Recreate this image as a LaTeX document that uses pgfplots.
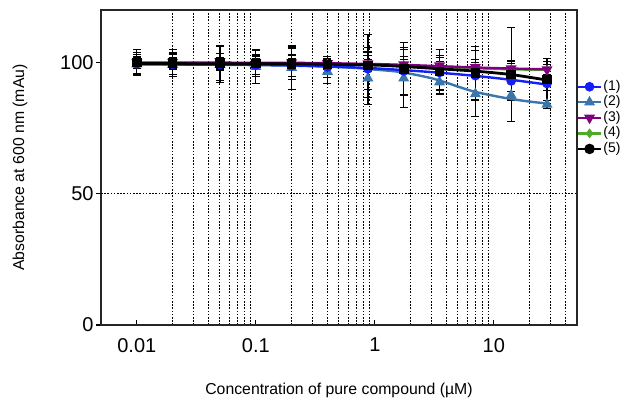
\documentclass[border=0pt]{standalone}
\usepackage{fontspec}
\setmainfont{Liberation Sans}
\usepackage{pgfplots}
\usepackage{pgfplotstable}
\pgfplotsset{compat=1.18}

\definecolor{c1}{RGB}{20,30,245}
\definecolor{c2}{RGB}{58,117,172}
\definecolor{c3}{RGB}{128,0,128}
\definecolor{c4}{RGB}{80,170,40}
\definecolor{c5}{RGB}{0,0,0}

% measured points: concentration, mean, error
\pgfplotstableread{
x     y      e
0.01  99.5   4.3
0.02  99.3   4.5
0.05  99.3   2.5
0.1   99.0   3.5
0.2   98.7   4.0
0.4   98.3   4.0
0.875 97.6   8.0
1.75  96.8   9.0
3.5   96.2   6.5
7     95.0   9.5
14    93.0   7.5
28    92.0   2.6
}\sone
\pgfplotstableread{
x     y      e
0.01  99.4   3.6
0.02  99.2   3.8
0.05  99.2   6.8
0.1   98.4   6.5
0.2   98.0   8.3
0.4   96.5   4.5
0.875 94.0   10.0
1.75  94.0   11.0
3.5   92.5   3.0
7     88.0   8.5
14    87.5   1.5
28    84.0   1.5
}\stwo
\pgfplotstableread{
x     y      e
0.01  100.0  2.3
0.02  100.2  3.0
0.05  100.4  3.0
0.1   100.2  2.8
0.2   100.0  3.0
0.4   99.7   2.5
0.875 99.6   3.0
1.75  99.2   3.0
3.5   98.8   3.0
7     98.2   3.0
14    97.7   3.0
28    97.3   3.0
}\sthree
\pgfplotstableread{
x     y      e
0.01  99.8   2.0
0.02  99.8   2.0
0.05  99.7   2.0
0.1   99.6   2.0
0.2   99.5   2.0
0.4   99.4   2.0
0.875 99.2   2.0
1.75  99.0   2.0
3.5   98.5   2.0
7     98.0   2.0
14    97.5   2.0
28    97.2   2.0
}\sfour
\pgfplotstableread{
x     y      e
0.01  100.0  5.0
0.02  99.8   5.1
0.05  99.8   6.7
0.1   99.6   5.0
0.2   99.5   6.0
0.4   99.2   3.0
0.875 98.8   12.0
1.75  97.5   10.0
3.5   96.5   8.5
7     96.0   10.0
14    95.4   18.0
28    93.5   8.0
}\sfive

\begin{document}
\begin{tikzpicture}
\useasboundingbox (-50.5pt,-38.5pt) rectangle (263.5pt,162.5pt);
\begin{axis}[
  name=ax, at={(0,0)}, anchor=south west,
  scale only axis, width=238pt, height=157.5pt,
  xmode=log, xmin=0.005, xmax=50, ymin=0, ymax=120,
  xtick={0.01,0.1,1,10}, xticklabels={0.01,0.1,1,10},
  ytick={0,50,100},
  minor xtick={0.02,0.03,0.04,0.05,0.06,0.07,0.08,0.09,0.2,0.3,0.4,0.5,0.6,0.7,0.8,0.9,2,3,4,5,6,7,8,9,20,30,40},
  xminorgrids,
  minor grid style={dash pattern=on 0.8pt off 0.8pt, black, line width=0.5pt},
  major grid style={dash pattern=on 0.8pt off 0.8pt, black, line width=0.5pt},
  extra y ticks={50}, extra y tick labels={},
  extra y tick style={grid=major, major tick length=0pt},
  tick pos=left,
  xtick align=inside, ytick align=outside,
  major tick length=2.5pt, minor tick length=0pt,
  tick style={black, line width=0.6pt},
  axis line style={black!85, line width=0.7pt},
  ticklabel style={font=\fontsize{10}{12}\selectfont},
  xticklabel style={yshift=-3pt},
  yticklabel style={inner xsep=1pt},
  /pgf/number format/assume math mode=true,
  legend cell align=left,
  legend style={at={(1,0.781)}, anchor=north west, draw=none, fill=none,
    font=\fontsize{7}{7}\selectfont, inner sep=0pt, outer sep=0pt,
    row sep=0pt, nodes={inner sep=0.6pt}},
  legend image code/.code={\draw[mark repeat=2,mark phase=2,#1] plot coordinates {(0cm,0cm) (0.2cm,0cm) (0.4cm,0cm)};},
  every axis plot/.append style={line width=1.2pt},
]
% legend
\addlegendimage{c1, mark=*, mark size=1.8pt}\addlegendentry{(1)}
\addlegendimage{c2, mark=triangle*, mark size=2pt}\addlegendentry{(2)}
\addlegendimage{c3, mark=triangle*, mark options={rotate=180}, mark size=2pt}\addlegendentry{(3)}
\addlegendimage{c4, mark=diamond*, mark size=1.5pt}\addlegendentry{(4)}
\addlegendimage{c5, mark=*, mark size=2pt}\addlegendentry{(5)}

% data points with error bars
\pgfplotsset{errs/.style={error bars/.cd, y dir=both, y explicit,
  error bar style={black, line width=0.6pt},
  error mark options={rotate=90, black, mark size=2pt, line width=0.6pt}}}
\addplot[c4, only marks, mark=diamond*, mark size=1.5pt, forget plot, errs] table[x=x, y=y, y error=e] {\sfour};
\addplot[c3, only marks, mark=triangle*, mark options={rotate=180}, mark size=2pt, forget plot, errs] table[x=x, y=y, y error=e] {\sthree};
\addplot[c2, only marks, mark=triangle*, mark size=2pt, forget plot, errs] table[x=x, y=y, y error=e] {\stwo};
\addplot[c1, only marks, mark=*, mark size=1.8pt, forget plot, errs] table[x=x, y=y, y error=e] {\sone};
\addplot[c5, only marks, mark=square*, mark size=1.8pt, forget plot, errs] table[x=x, y=y, y error=e] {\sfive};

% fitted curves
\addplot[c4, smooth, forget plot] coordinates {(0.01,99.7) (0.1,99.6) (0.3,99.5) (1,99.2) (2,98.8) (3.5,98.4) (7,97.8) (14,97.4) (28,97.2)};
\addplot[c3, smooth, forget plot] coordinates {(0.01,100) (0.1,99.9) (0.3,99.8) (1,99.4) (2,99.0) (3.5,98.6) (7,98.1) (14,97.7) (28,97.4)};
\addplot[c2, smooth, forget plot] coordinates {(0.01,99.3) (0.03,99.2) (0.1,99.0) (0.2,98.8) (0.4,98.4) (0.7,97.9) (1,97.3) (1.5,96.6) (2,95.7) (3,94.0) (4,92.3) (5.5,90.2) (7,88.8) (10,87.3) (14,86.1) (20,85.1) (28,84.4)};
\addplot[c1, smooth, forget plot] coordinates {(0.01,99.4) (0.1,99.1) (0.3,98.7) (0.875,97.9) (1.75,97.1) (3.5,96.1) (7,94.9) (14,93.4) (28,91.6)};
\addplot[c5, smooth, line width=1.4pt, forget plot] coordinates {(0.01,99.6) (0.1,99.5) (0.3,99.4) (1,99) (2,98.3) (3.5,97.6) (7,96.7) (14,95.4) (28,93.3)};
\end{axis}
\node[rotate=90, font=\fontsize{7.9}{9}\selectfont] at ([xshift=-40.5pt]ax.west) {Absorbance at 600 nm (mAu)};
\node[font=\fontsize{7.9}{9}\selectfont] at ([yshift=-32.5pt]ax.south) {Concentration of pure compound (µM)};
\end{tikzpicture}
\end{document}
